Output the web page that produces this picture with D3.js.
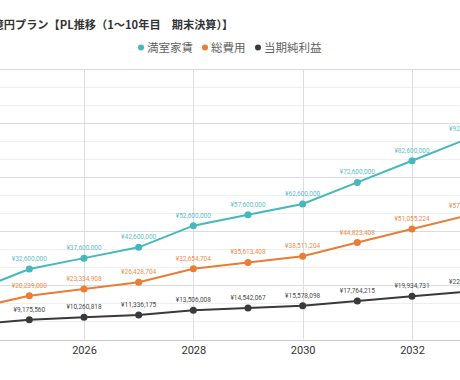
<!DOCTYPE html>
<html>
<head>
<meta charset="utf-8">
<script src="https://cdn.jsdelivr.net/npm/d3@7"></script>
<style>
  body { margin: 0; background: #fff; overflow: hidden; }
  svg { display: block; }
</style>
</head>
<body>
<div id="chart"></div>
<script>

// Chart data
var years = [2024, 2025, 2026, 2027, 2028, 2029, 2030, 2031, 2032, 2033];
var seriesNames = ["満室家賃", "総費用", "当期純利益"];
var rent = [22600000, 32600000, 37600000, 42600000, 52600000, 57600000, 62600000, 72600000, 82600000, 92600000];
var cost = [14500000, 20239000, 23334908, 26428704, 32654704, 35613408, 38511204, 44823408, 51055224, 57286000];
var profit = [7000000, 9175560, 10260818, 11336175, 13506008, 14542067, 15578098, 17764215, 19934731, 22105000];
var xTicks = [2024, 2026, 2028, 2030, 2032];
var titleText = "1億円プラン【PL推移（1〜10年目　期末決算）】";

var colors = ["#44b7bf", "#ea7c33", "#3a3a3a"];
var labelColors = ["#62c0c7", "#ec8c4c", "#4a4a4a"];

// SVG area
var svgWidth = 460;
var svgHeight = 380;

var svg = d3.select("#chart")
  .append("svg")
  .attr("width", svgWidth)
  .attr("height", svgHeight);

// the plot is wider than the window, so it is cut at both sides
var xScale = d3.scaleLinear()
  .domain([2026, 2032])
  .range([84, 412]);

var yScale = d3.scaleLinear()
  .domain([0, 125000000])
  .range([339.5, 69]);

// Gridlines: minor every 25M/3, major every 25M
var minorTicks = d3.range(0, 16).map(i => i * 25000000 / 3);
svg.append("g")
  .selectAll("line")
  .data(minorTicks)
  .enter()
  .append("line")
  .attr("x1", 0)
  .attr("x2", svgWidth)
  .attr("y1", d => Math.round(yScale(d)) + 0.5)
  .attr("y2", d => Math.round(yScale(d)) + 0.5)
  .attr("stroke", (d, i) => i % 3 == 0 ? "#dcdcdc" : "#efefef")
  .attr("stroke-width", 1);

svg.append("g")
  .selectAll("line")
  .data(xTicks)
  .enter()
  .append("line")
  .attr("x1", d => Math.round(xScale(d)) + 0.5)
  .attr("x2", d => Math.round(xScale(d)) + 0.5)
  .attr("y1", yScale(125000000))
  .attr("y2", yScale(0))
  .attr("stroke", "#dddddd");

// X axis
var bottomAxis = d3.axisBottom(xScale)
  .tickValues(xTicks)
  .tickFormat(d3.format("d"))
  .tickSize(0)
  .tickPadding(6);

var xAxis = svg.append("g")
  .attr("transform", `translate(0, ${Math.round(yScale(0)) + 0.5})`)
  .call(bottomAxis);

xAxis.select(".domain")
  .attr("d", `M0,0H${svgWidth}`)
  .attr("stroke", "#c8c8c8");

xAxis.selectAll("text")
  .attr("font-family", "Roboto, sans-serif")
  .attr("font-size", "11px")
  .attr("fill", "#333");

// Lines, points and labels
var allSeries = [rent, cost, profit];
var line = d3.line()
  .x((d, i) => xScale(years[i]))
  .y(d => yScale(d));

var fmt = d3.format(",");

allSeries.forEach(function(values, s) {
  svg.append("path")
    .datum(values)
    .attr("d", line)
    .attr("fill", "none")
    .attr("stroke", colors[s])
    .attr("stroke-width", 2);

  svg.append("g")
    .selectAll("circle")
    .data(values)
    .enter()
    .append("circle")
    .attr("cx", (d, i) => xScale(years[i]))
    .attr("cy", d => yScale(d))
    .attr("r", 3.5)
    .attr("fill", colors[s]);

  svg.append("g")
    .selectAll("text")
    .data(values)
    .enter()
    .append("text")
    .attr("x", (d, i) => xScale(years[i]))
    .attr("y", d => yScale(d) - 8)
    .attr("text-anchor", "middle")
    .attr("font-family", "Roboto, sans-serif")
    .attr("font-size", "6.5px")
    .attr("fill", labelColors[s])
    .text(d => "¥" + fmt(d));
});

// Title (its start is cut by the left edge)
svg.append("text")
  .attr("x", -14)
  .attr("y", 28.5)
  .attr("font-family", "'Noto Sans CJK JP', sans-serif")
  .attr("font-weight", "bold")
  .attr("font-size", "11.2px")
  .attr("fill", "#333")
  .text(titleText);

// Legend
var legendX = [141, 205, 258];
var legend = svg.append("g");
seriesNames.forEach(function(name, i) {
  legend.append("circle")
    .attr("cx", legendX[i])
    .attr("cy", 47.5)
    .attr("r", 3)
    .attr("fill", colors[i]);
  legend.append("text")
    .attr("x", legendX[i] + 6)
    .attr("y", 51.5)
    .attr("font-family", "'Noto Sans CJK JP', sans-serif")
    .attr("font-size", "11.5px")
    .attr("fill", "#5f5f5f")
    .text(name);
});

</script>
</body>
</html>
